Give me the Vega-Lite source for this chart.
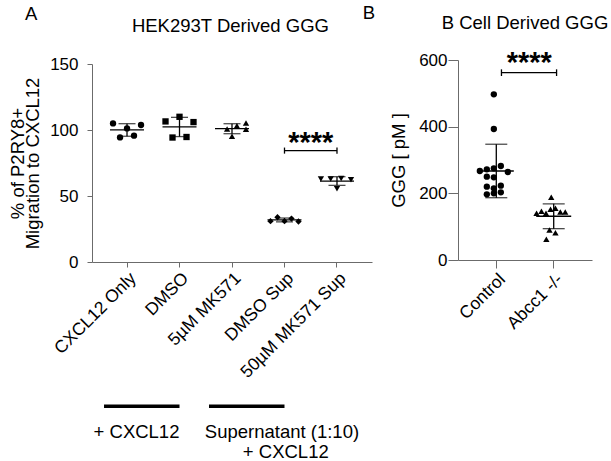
{
  "$schema": "https://vega.github.io/schema/vega-lite/v6.json",
  "padding": {"left": 8, "top": 3, "right": 0, "bottom": 0},
  "background": "white",
  "config": {
    "view": {"stroke": null},
    "font": "Liberation Sans",
    "axis": {
      "domainColor": "#6b6b6b",
      "tickColor": "#6b6b6b",
      "tickSize": 5,
      "grid": false,
      "labelFontSize": 17,
      "labelColor": "black",
      "labelFont": "Liberation Sans",
      "titleFont": "Liberation Sans",
      "titleFontSize": 18.5,
      "titleFontWeight": "normal",
      "titleColor": "black",
      "labelPadding": 2
    }
  },
  "resolve": {"scale": {"shape": "independent", "size": "independent"}},
  "datasets": {
    "hek": [
      {"group": "CXCL12 Only", "col": -2, "value": 105},
      {"group": "CXCL12 Only", "col": 0, "value": 101.2},
      {"group": "CXCL12 Only", "col": 2, "value": 103.8},
      {"group": "CXCL12 Only", "col": -1, "value": 94.4},
      {"group": "CXCL12 Only", "col": 1, "value": 95.7},
      {"group": "DMSO", "col": -2, "value": 106.5},
      {"group": "DMSO", "col": 0, "value": 110},
      {"group": "DMSO", "col": 2, "value": 106},
      {"group": "DMSO", "col": -1, "value": 94.3},
      {"group": "DMSO", "col": 1, "value": 94.7},
      {"group": "5µM MK571", "col": -0.7, "value": 100.7},
      {"group": "5µM MK571", "col": 0.7, "value": 103.2},
      {"group": "5µM MK571", "col": 2, "value": 105.3},
      {"group": "5µM MK571", "col": 2, "value": 100.5},
      {"group": "5µM MK571", "col": 0, "value": 95.2},
      {"group": "DMSO Sup", "col": -2, "value": 30.9},
      {"group": "DMSO Sup", "col": -1, "value": 33.9},
      {"group": "DMSO Sup", "col": 0, "value": 30.9},
      {"group": "DMSO Sup", "col": 1, "value": 32.9},
      {"group": "DMSO Sup", "col": 2, "value": 30.7},
      {"group": "50µM MK571 Sup", "col": -2.3, "value": 62.8},
      {"group": "50µM MK571 Sup", "col": -0.9, "value": 62.8},
      {"group": "50µM MK571 Sup", "col": 0.6, "value": 63.3},
      {"group": "50µM MK571 Sup", "col": 2, "value": 62.3},
      {"group": "50µM MK571 Sup", "col": 0, "value": 55.5}
    ],
    "bcell": [
      {"group": "Control", "col": 0, "value": 497},
      {"group": "Control", "col": 0, "value": 393},
      {"group": "Control", "col": -2, "value": 267},
      {"group": "Control", "col": -1, "value": 272},
      {"group": "Control", "col": 0, "value": 275},
      {"group": "Control", "col": 1, "value": 282},
      {"group": "Control", "col": 2, "value": 264},
      {"group": "Control", "col": -1, "value": 250},
      {"group": "Control", "col": 0, "value": 248},
      {"group": "Control", "col": -1, "value": 220},
      {"group": "Control", "col": 0, "value": 215},
      {"group": "Control", "col": 1, "value": 223},
      {"group": "Control", "col": -1, "value": 197},
      {"group": "Control", "col": 0, "value": 200},
      {"group": "Control", "col": 1, "value": 203},
      {"group": "Abcc1 -/-", "col": 0, "value": 188},
      {"group": "Abcc1 -/-", "col": -2.1, "value": 140},
      {"group": "Abcc1 -/-", "col": -1.4, "value": 146},
      {"group": "Abcc1 -/-", "col": -0.75, "value": 140},
      {"group": "Abcc1 -/-", "col": -0.1, "value": 152},
      {"group": "Abcc1 -/-", "col": 0.6, "value": 155},
      {"group": "Abcc1 -/-", "col": 1.3, "value": 144},
      {"group": "Abcc1 -/-", "col": 2, "value": 144},
      {"group": "Abcc1 -/-", "col": -0.25, "value": 90},
      {"group": "Abcc1 -/-", "col": 0.6, "value": 82},
      {"group": "Abcc1 -/-", "col": -0.7, "value": 62}
    ],
    "segA": [
      {"kind": "bracket", "x": 4, "x2": 5, "value": 84.4, "value2": 84.4},
      {"kind": "bracket", "x": 4, "x2": 4, "value": 82.1, "value2": 86.7},
      {"kind": "bracket", "x": 5, "x2": 5, "value": 82.1, "value2": 86.7},
      {"kind": "bar", "x": 0.562, "x2": 2.0, "value": -109.3, "value2": -109.3},
      {"kind": "bar", "x": 2.562, "x2": 4.0, "value": -109.3, "value2": -109.3}
    ],
    "textA": [
      {"kind": "stars", "x": 4.5, "value": 83, "text": "****"},
      {"kind": "label", "x": 1.181, "value": -133.4, "text": "+ CXCL12"},
      {"kind": "label", "x": 3.952, "value": -133.4, "text": "Supernatant (1:10)"},
      {"kind": "label", "x": 4.025, "value": -148.4, "text": "+ CXCL12"},
      {"kind": "letter", "x": -0.825, "value": 183.5, "text": "A"},
      {"kind": "title", "x": 2.97, "value": 174.6, "text": "HEK293T Derived GGG"}
    ],
    "segB": [
      {"kind": "bracket", "x": 1.09, "x2": 2.05, "value": 562, "value2": 562},
      {"kind": "bracket", "x": 1.09, "x2": 1.09, "value": 552, "value2": 572},
      {"kind": "bracket", "x": 2.05, "x2": 2.05, "value": 552, "value2": 572}
    ],
    "textB": [
      {"kind": "stars", "x": 1.575, "value": 565, "text": "****"},
      {"kind": "letter", "x": -1.217, "value": 723, "text": "B"},
      {"kind": "title", "x": 1.5, "value": 692, "text": "B Cell Derived GGG"}
    ]
  },
  "hconcat": [
    {
      "width": 280,
      "height": 202,
      "resolve": {"scale": {"x": "independent"}},
      "encoding": {
        "y": {
          "field": "value", "type": "quantitative",
          "scale": {"domain": [0, 150], "nice": false, "range": [202, 4]},
          "axis": {"values": [0, 50, 100, 150], "title": ["% of P2RY8+", "Migration to CXCL12"], "titleLineHeight": 15, "titlePadding": 7, "labelPadding": 9, "tickSize": 5}
        }
      },
      "layer": [
        {
          "data": {"name": "hek"},
          "encoding": {
            "x": {
              "field": "group", "type": "nominal",
              "scale": {"type": "band", "domain": ["CXCL12 Only", "DMSO", "5µM MK571", "DMSO Sup", "50µM MK571 Sup"], "paddingInner": 0, "paddingOuter": 0.167},
              "axis": {"title": null, "labelAngle": -45, "labelAlign": "right", "labelBaseline": "top", "tickSize": 5, "labelFontSize": 17.5}
            }
          },
          "layer": [
            {
              "mark": {"type": "errorbar", "extent": "stdev", "color": "black", "ticks": {"size": 17, "thickness": 1.3}, "rule": {"strokeWidth": 1.3}}
            },
            {
              "mark": {"type": "tick", "size": 34, "thickness": 1.3, "color": "black"},
              "encoding": {
                "y": {
                  "aggregate": "mean", "field": "value", "type": "quantitative",
                  "scale": {"domain": [0, 150], "nice": false, "range": [202, 4]},
                  "axis": {"values": [0, 50, 100, 150], "title": ["% of P2RY8+", "Migration to CXCL12"], "titleLineHeight": 15, "titlePadding": 7, "labelPadding": 9, "tickSize": 5}
                }
              }
            },
            {
              "mark": {"type": "point", "filled": true, "opacity": 1, "color": "black"},
              "encoding": {
                "xOffset": {"field": "col", "type": "quantitative", "scale": {"domain": [-3.75, 3.75]}},
                "shape": {"field": "group", "type": "nominal", "scale": {"domain": ["CXCL12 Only", "DMSO", "5µM MK571", "DMSO Sup", "50µM MK571 Sup"], "range": ["circle", "square", "triangle-up", "diamond", "triangle-down"]}, "legend": null},
                "size": {"field": "group", "type": "nominal", "scale": {"domain": ["CXCL12 Only", "DMSO", "5µM MK571", "DMSO Sup", "50µM MK571 Sup"], "range": [40, 40, 40, 24, 40]}, "legend": null}
              }
            }
          ]
        },
        {
          "data": {"name": "segA"},
          "transform": [{"filter": "datum.kind === 'bracket'"}],
          "mark": {"type": "rule", "color": "black", "strokeWidth": 1.3},
          "encoding": {
            "x": {"field": "x", "type": "quantitative", "scale": {"domain": [0.333, 5.667], "nice": false, "zero": false}, "axis": null},
            "x2": {"field": "x2"},
            "y2": {"field": "value2"}
          }
        },
        {
          "data": {"name": "segA"},
          "transform": [{"filter": "datum.kind === 'bar'"}],
          "mark": {"type": "rule", "color": "black", "strokeWidth": 3.5},
          "encoding": {
            "x": {"field": "x", "type": "quantitative", "scale": {"domain": [0.333, 5.667], "nice": false, "zero": false}, "axis": null},
            "x2": {"field": "x2"},
            "y2": {"field": "value2"}
          }
        },
        {
          "data": {"name": "textA"},
          "transform": [{"filter": "datum.kind === 'stars'"}],
          "mark": {"type": "text", "color": "black", "fontSize": 29, "fontWeight": "bold", "align": "center", "baseline": "alphabetic"},
          "encoding": {
            "x": {"field": "x", "type": "quantitative", "scale": {"domain": [0.333, 5.667], "nice": false, "zero": false}, "axis": null},
            "text": {"field": "text"}
          }
        },
        {
          "data": {"name": "textA"},
          "transform": [{"filter": "datum.kind !== 'stars'"}],
          "mark": {"type": "text", "color": "black", "fontSize": 18.5, "align": "center", "baseline": "alphabetic"},
          "encoding": {
            "x": {"field": "x", "type": "quantitative", "scale": {"domain": [0.333, 5.667], "nice": false, "zero": false}, "axis": null},
            "text": {"field": "text"}
          }
        }
      ]
    },
    {
      "width": 134,
      "height": 200,
      "resolve": {"scale": {"x": "independent"}},
      "encoding": {
        "y": {
          "field": "value", "type": "quantitative",
          "scale": {"domain": [0, 600], "nice": false},
          "axis": {"values": [0, 200, 400, 600], "title": "GGG [ pM ]", "titlePadding": 10, "labelPadding": 1, "tickSize": 10}
        }
      },
      "layer": [
        {
          "data": {"name": "bcell"},
          "encoding": {
            "x": {
              "field": "group", "type": "nominal",
              "scale": {"type": "band", "domain": ["Control", "Abcc1 -/-"], "paddingInner": 0, "paddingOuter": 0.167},
              "axis": {"title": null, "labelAngle": -45, "labelAlign": "right", "labelBaseline": "top", "tickSize": 8, "labelFontSize": 17.5}
            }
          },
          "layer": [
            {
              "mark": {"type": "errorbar", "extent": "stdev", "color": "black", "ticks": {"size": 22, "thickness": 1.3}, "rule": {"strokeWidth": 1.3}}
            },
            {
              "mark": {"type": "tick", "size": 35, "thickness": 1.3, "color": "black"},
              "encoding": {
                "y": {
                  "aggregate": "mean", "field": "value", "type": "quantitative",
                  "scale": {"domain": [0, 600], "nice": false},
                  "axis": {"values": [0, 200, 400, 600], "title": "GGG [ pM ]", "titlePadding": 10, "labelPadding": 1, "tickSize": 10}
                }
              }
            },
            {
              "mark": {"type": "point", "filled": true, "opacity": 1, "color": "black", "size": 40},
              "encoding": {
                "xOffset": {"field": "col", "type": "quantitative", "scale": {"domain": [-3.6, 3.6]}},
                "shape": {"field": "group", "type": "nominal", "scale": {"domain": ["Control", "Abcc1 -/-"], "range": ["circle", "triangle-up"]}, "legend": null}
              }
            }
          ]
        },
        {
          "data": {"name": "segB"},
          "mark": {"type": "rule", "color": "black", "strokeWidth": 1.3},
          "encoding": {
            "x": {"field": "x", "type": "quantitative", "scale": {"domain": [0.333, 2.667], "nice": false, "zero": false}, "axis": null},
            "x2": {"field": "x2"},
            "y2": {"field": "value2"}
          }
        },
        {
          "data": {"name": "textB"},
          "transform": [{"filter": "datum.kind === 'stars'"}],
          "mark": {"type": "text", "color": "black", "fontSize": 29, "fontWeight": "bold", "align": "center", "baseline": "alphabetic"},
          "encoding": {
            "x": {"field": "x", "type": "quantitative", "scale": {"domain": [0.333, 2.667], "nice": false, "zero": false}, "axis": null},
            "text": {"field": "text"}
          }
        },
        {
          "data": {"name": "textB"},
          "transform": [{"filter": "datum.kind !== 'stars'"}],
          "mark": {"type": "text", "color": "black", "fontSize": 18.5, "align": "center", "baseline": "alphabetic"},
          "encoding": {
            "x": {"field": "x", "type": "quantitative", "scale": {"domain": [0.333, 2.667], "nice": false, "zero": false}, "axis": null},
            "text": {"field": "text"}
          }
        }
      ]
    }
  ],
  "spacing": -10
}
